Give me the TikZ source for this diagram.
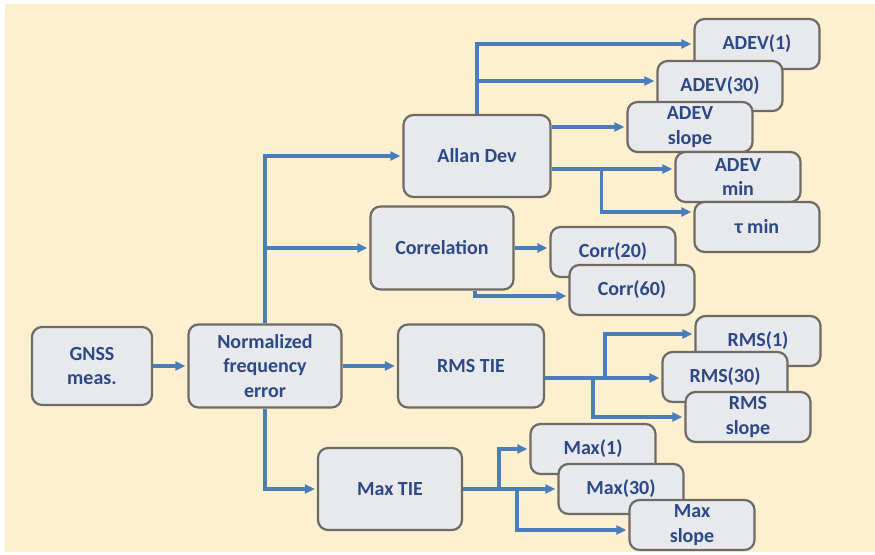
\documentclass[tikz,border=0pt]{standalone}
\usepackage{fontspec}
\setmainfont{Carlito}
\usepackage{xcolor}
\usepackage{tikz}
\usetikzlibrary{arrows.meta}
\definecolor{bgCream}{HTML}{FDF0D0}
\definecolor{boxGray}{HTML}{E8E9EC}
\definecolor{edgeGray}{HTML}{6F6A64}
\definecolor{textBlue}{HTML}{2C4888}
\definecolor{arrowBlue}{HTML}{4A7EBB}

\begin{document}
\begin{tikzpicture}[x=1pt,y=-1pt]

        \tikzset{
            block/.style={
                rounded corners=10pt,
                draw=edgeGray,
                line width=2.2pt,
                fill=boxGray,
                text=textBlue,
                font=\fontsize{20}{24.5}\selectfont\bfseries,
                align=center,
                inner sep=0pt
            },
            leaf/.style={
                block,
                minimum width=125pt,
                minimum height=50pt
            },
            link/.style={
                draw=arrowBlue,
                line width=3.3pt,
                shorten >=2pt,
                -{Triangle[length=10pt,width=9pt]}
            }
        }

        \newcommand{\Leaf}[4]{
            \node[leaf] (#1) at (#2,#3) {#4};
        }

        \useasboundingbox (0,0) rectangle (875,554);
        \fill[bgCream] (5,4) rectangle (875,552);

        \node[block, minimum width=120pt, minimum height=78pt] (gnss) at (92,366) {GNSS\\meas.};
        \node[block, minimum width=153pt, minimum height=83pt] (norm) at (265,366) {Normalized\\frequency\\error};
        \node[block, minimum width=147pt, minimum height=82pt] (allan) at (477,156) {Allan Dev};
        \node[block, minimum width=143pt, minimum height=83pt] (corr) at (442,248) {Correlation};
        \node[block, minimum width=146pt, minimum height=83pt] (rmstie) at (471,366) {RMS TIE};
        \node[block, minimum width=144pt, minimum height=82pt] (maxtie) at (390,489) {Max TIE};

        \Leaf{adev1}{757}{44}{ADEV(1)}
        \Leaf{adev30}{720}{86}{ADEV(30)}
        \Leaf{adevslope}{690}{127}{ADEV\\slope}
        \Leaf{adevmin}{738}{177}{ADEV\\min}
        \Leaf{taumin}{757}{227}{τ min}
        \Leaf{corr20}{613}{252}{Corr(20)}
        \Leaf{corr60}{632}{290}{Corr(60)}
        \Leaf{rms1}{758}{341}{RMS(1)}
        \Leaf{rms30}{725}{377}{RMS(30)}
        \Leaf{rmsslope}{748}{417}{RMS\\slope}
        \Leaf{max1}{593}{449}{Max(1)}
        \Leaf{max30}{621}{489}{Max(30)}
        \Leaf{maxslope}{692}{525}{Max\\slope}

        \draw[link] (gnss) -- (norm);
        \draw[link] (norm.north) |- (allan.west);
        \draw[link] (norm.north) |- (corr.west);
        \draw[link] (norm) -- (rmstie);
        \draw[link] (norm.south) |- (maxtie.west);

        \draw[link] (allan.north) |- (adev1.west);
        \draw[link] (allan.north) |- ([yshift=5pt]adev30.west);
        \draw[link] (adevslope.west -| allan.east) -- (adevslope.west);
        \draw[link] ([yshift=-13pt]allan.east) -- ([yshift=-13pt]allan.east -| adevmin.west);
        \coordinate (adevfork) at ([xshift=50pt,yshift=-13pt]allan.east);
        \draw[link] (adevfork) |- ([yshift=15pt]taumin.west);

        \draw[link] (corr.east) -- (corr.east -| corr20.west);
        \draw[link] ([xshift=33pt]corr.south) |- ([yshift=-6pt]corr60.west);

        \draw[link] ([yshift=-12pt]rmstie.east) -- ([yshift=-12pt]rmstie.east -| rms30.west);
        \coordinate (rmsforkA) at ([xshift=60pt,yshift=-12pt]rmstie.east);
        \draw[link] (rmsforkA) |- ([yshift=7pt]rms1.west);
        \coordinate (rmsforkB) at ([xshift=48pt,yshift=-12pt]rmstie.east);
        \draw[link] (rmsforkB) |- (rmsslope.west);

        \draw[link] (maxtie.east) -- (max30.west);
        \coordinate (maxforkA) at ([xshift=36pt]maxtie.east);
        \draw[link] (maxforkA) |- (max1.west);
        \coordinate (maxforkB) at ([xshift=54pt]maxtie.east);
        \draw[link] (maxforkB) |- ([yshift=-5pt]maxslope.west);

\end{tikzpicture}
\end{document}
